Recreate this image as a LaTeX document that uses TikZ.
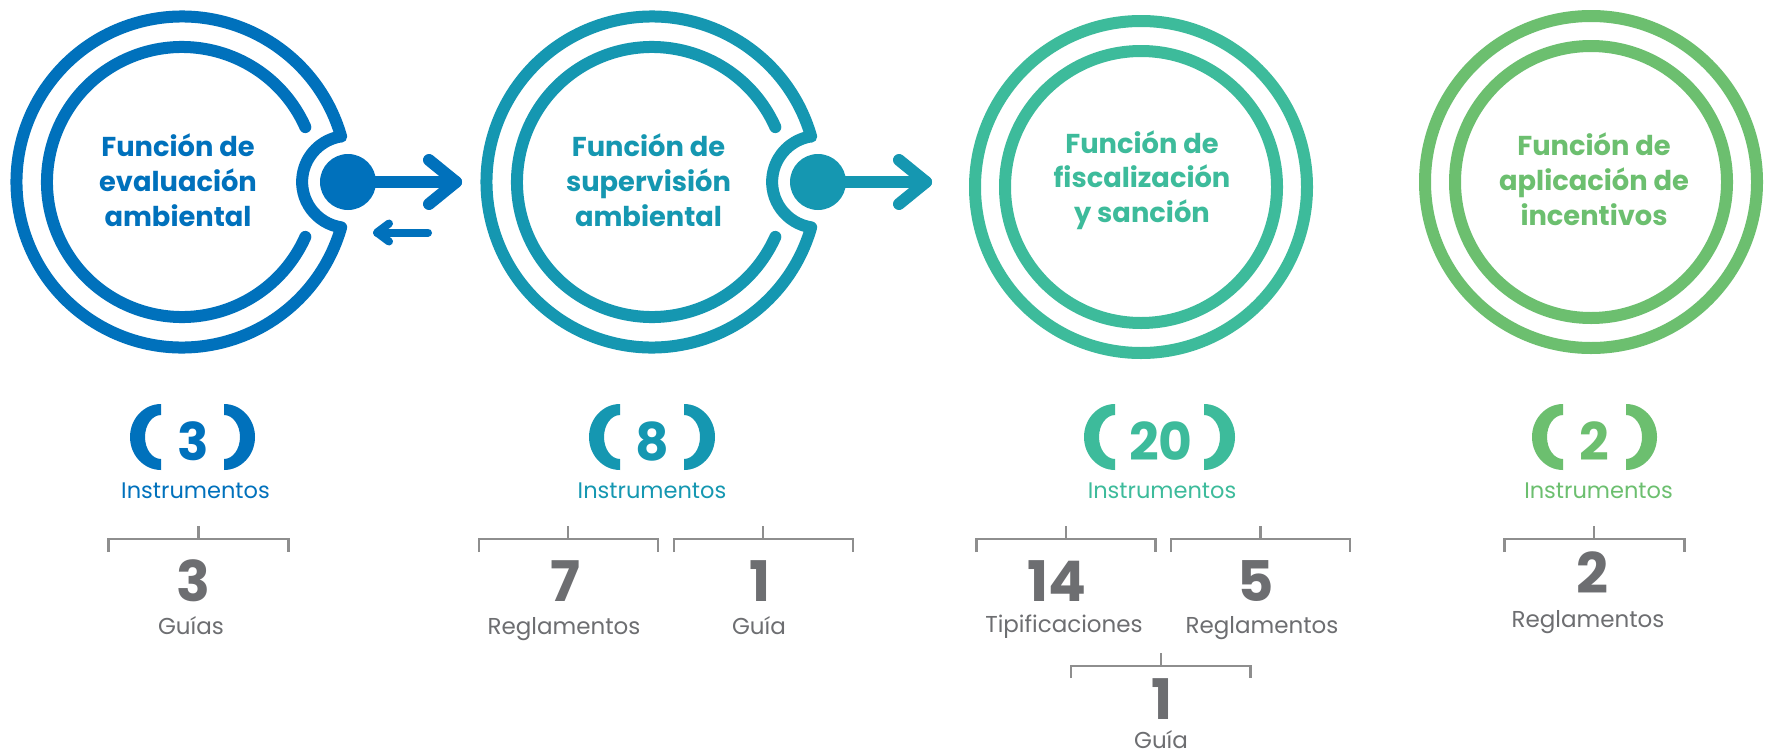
\documentclass[tikz,border=0pt]{standalone}
\usepackage{fontspec}
\setmainfont{Poppins}
\definecolor{cA}{HTML}{0071BC}
\definecolor{cB}{HTML}{1597B1}
\definecolor{cC}{HTML}{3DBB9B}
\definecolor{cD}{HTML}{6CBF6F}
\definecolor{gtx}{HTML}{6D6E71}
\definecolor{gln}{HTML}{8E8E8E}
\tikzset{
  ring/.style={line width=12pt, line cap=round, line join=round},
  ttl/.style={anchor=base, inner sep=0pt, font=\fontsize{27.3}{34}\selectfont\bfseries},
  instr/.style={anchor=base, inner sep=0pt, font=\fontsize{22.5}{27}\selectfont},
  pnum/.style={anchor=base, inner sep=0pt, font=\fontsize{52}{60}\selectfont\bfseries},
  gnum/.style={anchor=base, inner sep=0pt, text=gtx, font=\fontsize{56}{64}\selectfont\bfseries},
  glab/.style={anchor=base, inner sep=0pt, text=gtx, font=\fontsize{23}{28}\selectfont},
  brk/.style={draw=gln, line width=2.5pt},
  lpar/.pic={\fill[#1] (0,33) arc[start angle=90, end angle=270, x radius=31, y radius=33] -- (0,-22) arc[start angle=270, end angle=90, x radius=16, y radius=22] -- cycle;},
  rpar/.pic={\fill[#1] (0,33) arc[start angle=90, end angle=-90, x radius=31, y radius=33] -- (0,-22) arc[start angle=-90, end angle=90, x radius=16, y radius=22] -- cycle;},
}
\begin{document}
\begin{tikzpicture}[x=1pt,y=1pt]
\fill[white] (0,0) rectangle (1771,-755);
\useasboundingbox (0,0) rectangle (1771,-755);

% ---------- circle 1 ----------
\coordinate (C1) at (182,-182);
\coordinate (D1) at (348,-182);
\draw[ring, cA] (C1) ++(15.9:165.5) arc[start angle=15.9, end angle=344.1, radius=165.5]
   arc[start angle=261.3, end angle=98.7, radius=46] -- cycle;
\draw[ring, cA] (C1) ++(24:135) arc[start angle=24, end angle=336, radius=135];
\node[circle, fill=cA, minimum size=56pt, inner sep=0pt] (dot1) at (D1) {};
\coordinate (tip1) at (456,-182);
\draw[ring, cA] (dot1.center) -- (tip1);
\draw[ring, cA] (429,-160) -- (tip1) -- (429,-204);
\coordinate (bs1) at (428,-232.5);
\coordinate (bt1) at (377,-232.5);
\draw[cA, line width=8pt, line cap=round, line join=round] (bs1) -- (bt1);
\draw[cA, line width=8pt, line cap=round, line join=round] (389,-223.5) -- (bt1) -- (389,-241.5);
\node[ttl, text=cA] (t1a) at (178,-156) {Función de};
\node[ttl, text=cA] (t1b) at (178,-191.5) {evaluación};
\node[ttl, text=cA] (t1c) at (178,-226) {ambiental};

% ---------- circle 2 ----------
\coordinate (C2) at (652,-182);
\coordinate (D2) at (818,-182);
\draw[ring, cB] (C2) ++(15.9:165.5) arc[start angle=15.9, end angle=344.1, radius=165.5]
   arc[start angle=261.3, end angle=98.7, radius=46] -- cycle;
\draw[ring, cB] (C2) ++(24:135) arc[start angle=24, end angle=336, radius=135];
\node[circle, fill=cB, minimum size=56pt, inner sep=0pt] (dot2) at (D2) {};
\coordinate (tip2) at (926,-182);
\draw[ring, cB] (dot2.center) -- (tip2);
\draw[ring, cB] (899,-160) -- (tip2) -- (899,-204);
\node[ttl, text=cB] (t2a) at (648.5,-156) {Función de};
\node[ttl, text=cB] (t2b) at (648.5,-191) {supervisión};
\node[ttl, text=cB] (t2c) at (648.5,-226) {ambiental};

% ---------- circle 3 ----------
\coordinate (C3) at (1141,-187);
\draw[ring, cC] (C3) circle[radius=166];
\draw[ring, cC] (C3) circle[radius=136];
\node[ttl, text=cC] (t3a) at (1142,-153) {Función de};
\node[ttl, text=cC] (t3b) at (1142,-187.5) {fiscalización};
\node[ttl, text=cC] (t3c) at (1142,-222) {y sanción};

% ---------- circle 4 ----------
\coordinate (C4) at (1591,-182);
\draw[ring, cD] (C4) circle[radius=166];
\draw[ring, cD] (C4) circle[radius=136];
\node[ttl, text=cD] (t4a) at (1594,-155) {Función de};
\node[ttl, text=cD] (t4b) at (1594,-190.5) {aplicación de};
\node[ttl, text=cD] (t4c) at (1594,-225) {incentivos};

% ---------- counts ----------
\pic at (161,-437) {lpar=cA};  \pic at (224,-437) {rpar=cA};
\node[pnum, text=cA] (n1) at (193.5,-460) {3};
\node[instr, text=cA] (i1) at (195.5,-498) {Instrumentos};

\pic at (620,-437) {lpar=cB};  \pic at (684,-437) {rpar=cB};
\node[pnum, text=cB] (n2) at (652,-460) {8};
\node[instr, text=cB] (i2) at (652,-498) {Instrumentos};

\pic at (1115,-437) {lpar=cC};  \pic at (1204,-437) {rpar=cC};
\node[pnum, text=cC] (n3) at (1161,-460) {20};
\node[instr, text=cC] (i3) at (1162,-498) {Instrumentos};

\pic at (1563,-437) {lpar=cD};  \pic at (1626,-437) {rpar=cD};
\node[pnum, text=cD] (n4) at (1594.5,-460) {2};
\node[instr, text=cD] (i4) at (1598.5,-498) {Instrumentos};

% ---------- brackets ----------
\draw[brk] (108.5,-552) |- (288.5,-539) -- (288.5,-552);  \draw[brk] (198.5,-539) -- (198.5,-526);
\draw[brk] (479,-552) |- (658,-539) -- (658,-552);  \draw[brk] (568,-539) -- (568,-526);
\draw[brk] (674,-552) |- (853,-539) -- (853,-552);  \draw[brk] (763,-539) -- (763,-526);
\draw[brk] (976.5,-552) |- (1155.5,-539) -- (1155.5,-552);  \draw[brk] (1066,-539) -- (1066,-526);
\draw[brk] (1171,-552) |- (1350,-539) -- (1350,-552);  \draw[brk] (1260.5,-539) -- (1260.5,-526);
\draw[brk] (1071,-678) |- (1250.5,-666) -- (1250.5,-678);  \draw[brk] (1161,-666) -- (1161,-653);
\draw[brk] (1504.5,-552) |- (1684.5,-539) -- (1684.5,-552);  \draw[brk] (1594,-539) -- (1594,-526);

% ---------- details ----------
\node[gnum] (g1) at (193,-601) {3};
\node[glab] (l1) at (191,-634) {Guías};
\node[gnum] (g2) at (565.5,-601) {7};
\node[glab] (l2) at (564,-634) {Reglamentos};
\node[gnum] (g3) at (760.5,-601) {1};
\node[glab] (l3) at (759,-634) {Guía};
\node[gnum] (g4) at (1057,-601) {14};
\node[glab] (l4) at (1064,-632) {Tipificaciones};
\node[gnum] (g5) at (1256,-601) {5};
\node[glab] (l5) at (1262,-633) {Reglamentos};
\node[gnum] (g6) at (1162,-719) {1};
\node[glab] (l6) at (1161,-748.5) {Guía};
\node[gnum] (g7) at (1592.5,-593) {2};
\node[glab] (l7) at (1588,-627) {Reglamentos};
\end{tikzpicture}
\end{document}
